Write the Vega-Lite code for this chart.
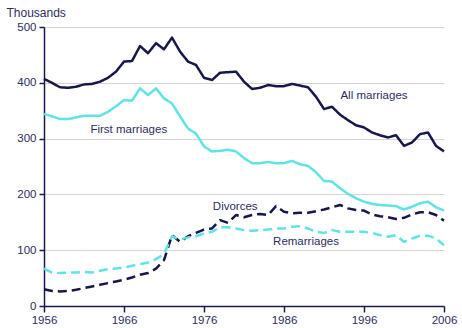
{
  "$schema": "https://vega.github.io/schema/vega-lite/v6.json",
  "width": 400,
  "height": 279,
  "autosize": "none",
  "padding": {"left": 44, "top": 27, "right": 18, "bottom": 22},
  "background": "white",
  "config": {
    "view": {"stroke": null},
    "font": "Liberation Sans",
    "axis": {
      "labelFont": "Liberation Sans",
      "titleFont": "Liberation Sans",
      "labelFontSize": 11.5,
      "labelColor": "#2c2c5e",
      "domainColor": "#1a1a4e",
      "domainWidth": 1.5,
      "tickColor": "#1a1a4e",
      "tickWidth": 1.5
    }
  },
  "datasets": {
    "series": [
      {"year":1956,"all":407,"first":344,"div":30,"re":67},
      {"year":1957,"all":400,"first":340,"div":27,"re":60},
      {"year":1958,"all":392,"first":335,"div":26,"re":59},
      {"year":1959,"all":391,"first":335,"div":27,"re":60},
      {"year":1960,"all":393,"first":338,"div":29,"re":60},
      {"year":1961,"all":397,"first":341,"div":32,"re":61},
      {"year":1962,"all":398,"first":341,"div":35,"re":60},
      {"year":1963,"all":402,"first":341,"div":38,"re":63},
      {"year":1964,"all":409,"first":348,"div":41,"re":66},
      {"year":1965,"all":420,"first":358,"div":44,"re":67},
      {"year":1966,"all":438,"first":369,"div":47,"re":69},
      {"year":1967,"all":439,"first":368,"div":51,"re":72},
      {"year":1968,"all":466,"first":390,"div":56,"re":75},
      {"year":1969,"all":453,"first":378,"div":59,"re":78},
      {"year":1970,"all":471,"first":390,"div":67,"re":84},
      {"year":1971,"all":460,"first":372,"div":82,"re":93},
      {"year":1972,"all":481,"first":363,"div":127,"re":125},
      {"year":1973,"all":456,"first":340,"div":115,"re":119},
      {"year":1974,"all":438,"first":318,"div":125,"re":123},
      {"year":1975,"all":432,"first":309,"div":131,"re":125},
      {"year":1976,"all":409,"first":286,"div":137,"re":130},
      {"year":1977,"all":405,"first":277,"div":139,"re":133},
      {"year":1978,"all":418,"first":278,"div":154,"re":141},
      {"year":1979,"all":419,"first":280,"div":149,"re":141},
      {"year":1980,"all":420,"first":277,"div":163,"re":139},
      {"year":1981,"all":402,"first":265,"div":159,"re":136},
      {"year":1982,"all":389,"first":256,"div":163,"re":135},
      {"year":1983,"all":391,"first":256,"div":165,"re":136},
      {"year":1984,"all":396,"first":258,"div":163,"re":137},
      {"year":1985,"all":394,"first":256,"div":179,"re":139},
      {"year":1986,"all":394,"first":256,"div":169,"re":139},
      {"year":1987,"all":398,"first":260,"div":166,"re":142},
      {"year":1988,"all":395,"first":254,"div":167,"re":143},
      {"year":1989,"all":392,"first":251,"div":167,"re":139},
      {"year":1990,"all":375,"first":240,"div":170,"re":133},
      {"year":1991,"all":353,"first":224,"div":173,"re":131},
      {"year":1992,"all":357,"first":223,"div":177,"re":136},
      {"year":1993,"all":343,"first":211,"div":181,"re":133},
      {"year":1994,"all":333,"first":201,"div":175,"re":133},
      {"year":1995,"all":324,"first":193,"div":172,"re":133},
      {"year":1996,"all":320,"first":187,"div":171,"re":133},
      {"year":1997,"all":311,"first":183,"div":164,"re":131},
      {"year":1998,"all":306,"first":181,"div":161,"re":127},
      {"year":1999,"all":302,"first":180,"div":159,"re":124},
      {"year":2000,"all":306,"first":179,"div":156,"re":127},
      {"year":2001,"all":287,"first":173,"div":158,"re":115},
      {"year":2002,"all":293,"first":178,"div":164,"re":121},
      {"year":2003,"all":308,"first":184,"div":168,"re":126},
      {"year":2004,"all":311,"first":187,"div":168,"re":126},
      {"year":2005,"all":287,"first":177,"div":163,"re":121},
      {"year":2006,"all":277,"first":171,"div":153,"re":109}
    ],
    "labels": [
      {"year":1997.25,"value":376,"text":"All marriages"},
      {"year":1966.6,"value":315,"text":"First marriages"},
      {"year":1979.9,"value":177,"text":"Divorces"},
      {"year":1988.75,"value":115,"text":"Remarriages"}
    ]
  },
  "layer": [
    {
      "data": {"name": "series"},
      "transform": [{"fold": ["all", "first", "div", "re"], "as": ["series", "value"]}],
      "mark": {"type": "line", "strokeWidth": 2.5, "strokeJoin": "round"},
      "encoding": {
        "x": {
          "field": "year", "type": "quantitative",
          "scale": {"domain": [1956, 2006], "nice": false, "zero": false},
          "axis": {"values": [1956, 1966, 1976, 1986, 1996, 2006], "format": "d", "title": null, "grid": false, "tickSize": 6, "labelPadding": 2, "labelFlush": false}
        },
        "y": {
          "field": "value", "type": "quantitative",
          "scale": {"domain": [0, 500], "nice": false},
          "axis": {
            "values": [0, 100, 200, 300, 400, 500],
            "title": "Thousands", "titleAngle": 0, "titleAlign": "left", "titleBaseline": "middle",
            "titleX": -38, "titleY": -15, "titleFontWeight": "normal", "titleFontSize": 12, "titleColor": "#2c2c5e",
            "grid": true, "gridColor": "#d4d4d4", "gridWidth": 1, "tickSize": 5, "labelPadding": 3
          }
        },
        "color": {
          "field": "series", "type": "nominal",
          "scale": {"domain": ["all", "first", "div", "re"], "range": ["#17174c", "#5ee3e6", "#17174c", "#5ee3e6"]},
          "legend": null
        },
        "strokeDash": {
          "field": "series", "type": "nominal",
          "scale": {"domain": ["all", "first", "div", "re"], "range": [[1, 0], [1, 0], [9, 5], [9, 5]]},
          "legend": null
        }
      }
    },
    {
      "data": {"name": "labels"},
      "mark": {"type": "text", "fontSize": 11.5, "color": "#2c2c5e", "align": "center", "baseline": "middle"},
      "encoding": {
        "x": {"field": "year", "type": "quantitative"},
        "y": {"field": "value", "type": "quantitative"},
        "text": {"field": "text"}
      }
    }
  ]
}
